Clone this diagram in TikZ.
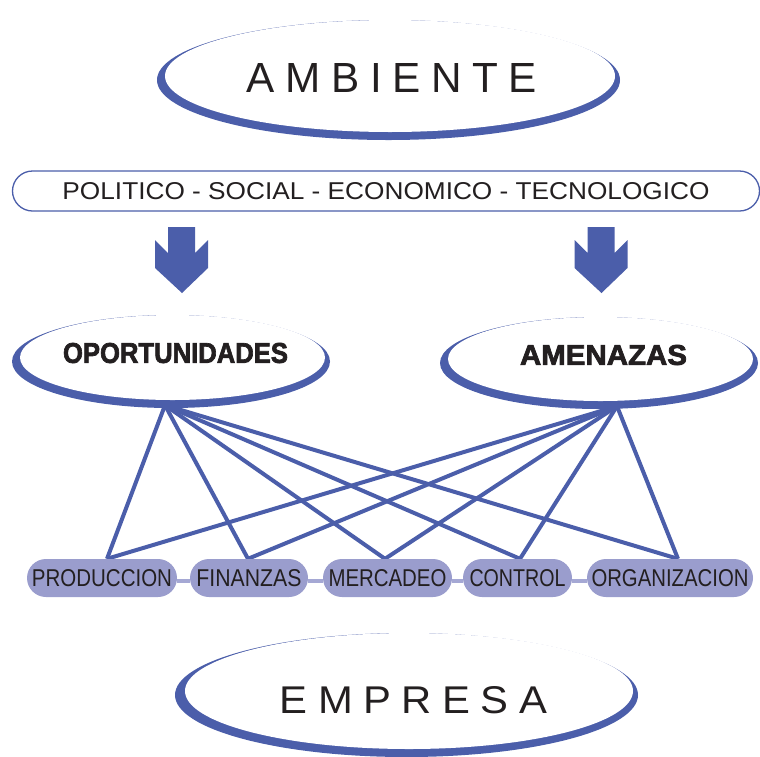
\documentclass[tikz,border=0pt]{standalone}
\usepackage{fontspec}
\setmainfont{Liberation Sans}
\newfontfamily\heavyfont[FakeBold=2.5]{Liberation Sans Bold}
\usepackage{graphicx}
\usetikzlibrary{shapes.geometric,backgrounds}
\definecolor{azul}{RGB}{75,94,170}
\definecolor{lila}{RGB}{154,157,205}
\definecolor{lilabar}{RGB}{165,168,212}
\definecolor{tinta}{RGB}{35,31,32}
\newcommand{\fitbox}[3]{\resizebox{#1pt}{#2pt}{#3}}
\begin{document}
\begin{tikzpicture}[x=1pt,y=-1pt,
  shadowell/.style={ellipse, fill=azul, inner sep=0pt, draw=none},
  faceell/.style={ellipse, fill=white, inner sep=0pt, draw=none},
  txt/.style={inner sep=0pt, text=tinta},
  band/.style={draw=azul, line width=1.3pt, rounded corners=20pt, fill=white,
    minimum width=747pt, minimum height=40pt, inner sep=0pt, text=tinta},
  area/.style={fill=lila, rounded corners=19pt, minimum height=38pt, inner sep=0pt, text=tinta},
  link/.style={draw=azul, line width=4pt},
  bar/.style={draw=lilabar, line width=4.5pt},
  bigarrow/.style={fill=azul}]
\useasboundingbox (0,0) rectangle (760,756);

% AMBIENTE
\node[shadowell, minimum width=463pt, minimum height=120pt] (ambB) at (388.5,80) {};
\node[faceell, minimum width=450pt, minimum height=112pt] (ambW) at (390,76) {};
\node[txt] (ambT) at (392,77.5) {\fitbox{290}{29}{A\kern.25em M\kern.25em B\kern.25em I\kern.25em E\kern.25em N\kern.25em T\kern.25em E}};

% band
\node[band] (env) at (386,191) {\fitbox{647}{17}{POLITICO - SOCIAL - ECONOMICO - TECNOLOGICO}};

% arrows
\fill[bigarrow] (168,227) -- (195,227) -- (195,253) -- (208,240) -- (208,268) -- (182,293) -- (155,268) -- (155,240) -- (168,253) -- cycle;
\begin{scope}[xshift=419.5pt]
\fill[bigarrow] (168,227) -- (195,227) -- (195,253) -- (208,240) -- (208,268) -- (182,293) -- (155,268) -- (155,240) -- (168,253) -- cycle;
\end{scope}

% OPORTUNIDADES
\node[shadowell, minimum width=318pt, minimum height=93pt] (opB) at (171,361.5) {};
\node[faceell, minimum width=305pt, minimum height=85pt] (opW) at (172.5,357.5) {};
\node[txt] (opT) at (175.5,353) {\fitbox{225}{20}{\heavyfont OPORTUNIDADES}};

% AMENAZAS
\node[shadowell, minimum width=318pt, minimum height=92pt] (amB) at (599,363) {};
\node[faceell, minimum width=305pt, minimum height=84pt] (amW) at (600.5,359) {};
\node[txt] (amT) at (603.5,355) {\fitbox{167}{20}{\heavyfont AMENAZAS}};

% company areas
\node[area, minimum width=150pt] (prod) at (102,578) {\fitbox{140}{17}{PRODUCCION}};
\node[area, minimum width=118pt] (fin) at (249,578) {\fitbox{105}{17}{FINANZAS}};
\node[area, minimum width=129pt] (mer) at (387.5,578) {\fitbox{118}{17}{MERCADEO}};
\node[area, minimum width=109pt] (con) at (517.5,578) {\fitbox{96}{17}{CONTROL}};
\node[area, minimum width=166pt] (org) at (670,578) {\fitbox{157}{17}{ORGANIZACION}};

\begin{scope}[on background layer]
  \draw[bar] ([yshift=-3pt]prod.east) -- ([yshift=-3pt]fin.west);
  \draw[bar] ([yshift=-3pt]fin.east) -- ([yshift=-3pt]mer.west);
  \draw[bar] ([yshift=-3pt]mer.east) -- ([yshift=-3pt]con.west);
  \draw[bar] ([yshift=-3pt]con.east) -- ([yshift=-3pt]org.west);
  \foreach \t/\s in {prod/5pt, fin/-1pt, mer/-2.5pt, con/2.5pt, org/8pt}{
    \draw[link] ([xshift=-6pt,yshift=3pt]opB.south) -- ([xshift=\s]\t.north);
    \draw[link] ([xshift=18pt,yshift=3pt]amB.south) -- ([xshift=\s]\t.north);
  }
\end{scope}

% EMPRESA
\node[shadowell, minimum width=463pt, minimum height=124pt] (empB) at (406.5,695) {};
\node[faceell, minimum width=448pt, minimum height=116pt] (empW) at (409,691) {};
\node[txt] (empT) at (413.5,700) {\fitbox{267}{27}{E\kern.25em M\kern.25em P\kern.25em R\kern.25em E\kern.25em S\kern.25em A}};
\end{tikzpicture}
\end{document}
